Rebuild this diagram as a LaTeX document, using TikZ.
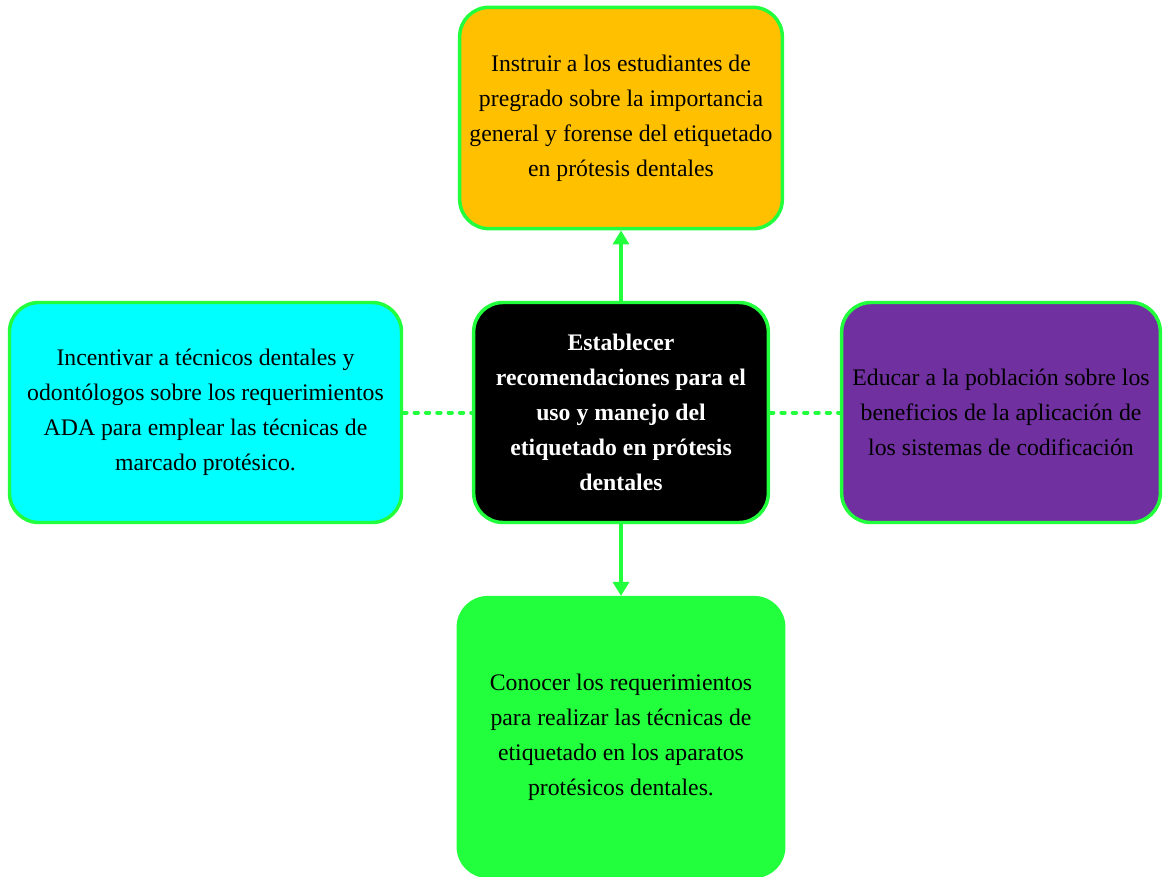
\documentclass[tikz,border=0pt]{standalone}
\usepackage{fontspec}
\setmainfont{Liberation Serif}
\usepackage{tikz}
\usetikzlibrary{arrows.meta, positioning, shapes, shapes.misc}
\definecolor{MapGreen}{HTML}{22FF3C}
\definecolor{MapOrange}{HTML}{FFC000}
\definecolor{MapCyan}{HTML}{00FFFF}
\definecolor{MapPurple}{HTML}{7030A0}
\definecolor{MapBlack}{HTML}{000000}
\definecolor{MapWhite}{HTML}{FFFFFF}
\colorlet{BoxBorder}{MapGreen}
\colorlet{LinkLine}{MapGreen}
\tikzset{
  goalbox/.style={draw=BoxBorder, line width=2.6pt, rounded corners=22pt, align=center,
    inner sep=4pt, font=\fontsize{17.8}{26.25}\selectfont},
  arrowlink/.style={draw=LinkLine, line width=2.4pt, -{Triangle[length=10.5pt, width=12pt]}},
  dotlink/.style={draw=LinkLine, line width=3pt, line cap=round, dash pattern=on 2.5pt off 6pt}
}

\begin{document}
\begin{tikzpicture}[x=0.75pt, y=-0.75pt]

    % Canvas
    \useasboundingbox[fill=MapWhite] (0,0) rectangle (1164,877);

    % Central objective
    \node[goalbox, fill=MapBlack, text=MapWhite, font=\bfseries\fontsize{17.8}{26.25}\selectfont,
      minimum width=221pt, minimum height=165pt] (main) at (621,412.5)
      {Establecer\\recomendaciones para el\\uso y manejo del\\etiquetado en prótesis\\dentales};

    % Specific objectives
    \node[goalbox, fill=MapOrange, minimum width=242pt, minimum height=166pt] (top) at (621,118)
      {Instruir a los estudiantes de\\pregrado sobre la importancia\\general y forense del etiquetado\\en prótesis dentales};
    \node[goalbox, fill=MapCyan, minimum width=294pt, minimum height=165pt] (left) at (205.5,412.5)
      {Incentivar a técnicos dentales y\\odontólogos sobre los requerimientos\\ADA para emplear las técnicas de\\marcado protésico.};
    \node[goalbox, fill=MapPurple, minimum width=239pt, minimum height=165pt] (right) at (1001,412.5)
      {Educar a la población sobre los\\beneficios de la aplicación de\\los sistemas de codificación};
    \node[goalbox, fill=MapGreen, minimum width=244pt, minimum height=209pt] (bottom) at (621,737)
      {Conocer los requerimientos\\para realizar las técnicas de\\etiquetado en los aparatos\\protésicos dentales.};

    % Links
    \draw[arrowlink] (main) -- (top);
    \draw[arrowlink] (main) -- (bottom);
    \draw[dotlink] (left) -- (main);
    \draw[dotlink] (main) -- (right);

\end{tikzpicture}
\end{document}
